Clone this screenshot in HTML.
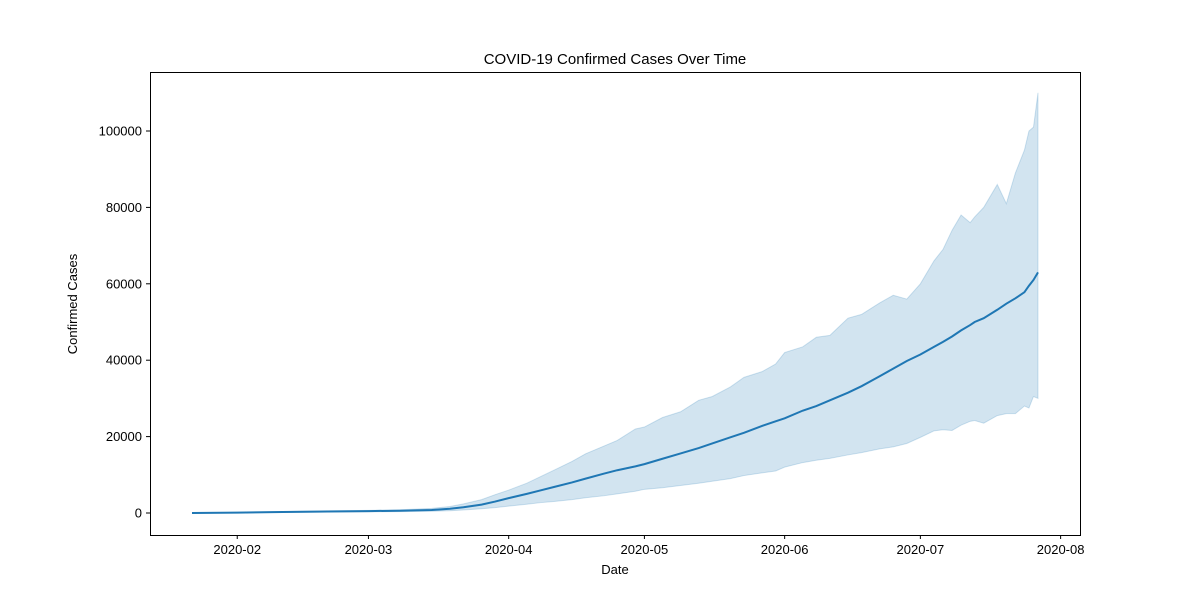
<!DOCTYPE html>
<html><head><meta charset="utf-8"><style>
html,body{margin:0;padding:0;background:#fff;}
svg{display:block;font-family:"Liberation Sans","DejaVu Sans",sans-serif;}
</style></head><body>
<svg id="chart" width="1200" height="600" viewBox="0 0 1200 600">
<text x="615" y="64" text-anchor="middle" font-size="15">COVID-19 Confirmed Cases Over Time</text>
<g id="plot"></g>
<rect x="150.5" y="72.5" width="930" height="463" fill="none" stroke="#000" stroke-width="1"/>
<text x="615" y="574" text-anchor="middle" font-size="13">Date</text>
<text transform="translate(77,304) rotate(-90)" text-anchor="middle" font-size="13">Confirmed Cases</text>
</svg>
<script>
// days since 2020-01-22
const days  = [0,10,20,30,39,46,53,57,60,64,67,70,74,77,80,84,87,91,94,98,100,104,108,112,115,119,122,126,129,131,135,138,141,145,148,152,155,158,161,164,166,168,170,172,173,175,178,180,182,184,185,186,187];
const meanV = [0,100,250,400,500,600,800,1100,1500,2200,3000,3900,5000,5900,6800,8000,9000,10300,11200,12200,12800,14200,15600,17000,18200,19800,21000,22800,24000,24800,26800,28000,29500,31500,33200,35800,37800,39800,41500,43500,44800,46200,47800,49200,50000,51000,53200,54800,56200,57800,59500,61000,63000];
const lowerV= [0,50,150,250,300,350,450,600,800,1100,1400,1800,2300,2700,3000,3500,4000,4500,5000,5700,6200,6600,7200,7800,8300,9000,9800,10500,11000,12000,13200,13800,14300,15200,15800,16800,17300,18200,19800,21500,21800,21600,23000,24000,24200,23500,25500,26000,26000,28000,27500,30500,30000];
const upperV= [0,150,350,550,700,850,1200,1700,2400,3500,4800,6000,7800,9500,11200,13500,15500,17500,19000,22000,22500,25000,26500,29500,30500,33000,35500,37000,39000,42000,43500,46000,46500,51000,52000,55000,57000,56000,60000,66000,69000,74000,78000,76000,77500,80000,86000,81000,89000,95000,100000,101000,110000];
const yTicks=[0,20000,40000,60000,80000,100000];
const xTickLabels=["2020-02","2020-03","2020-04","2020-05","2020-06","2020-07","2020-08"];
const xTickDays=[10,39,70,100,131,161,192];

const X=d=>192+d*(1038-192)/187;
const Y=v=>513-v*(513-131)/100000;
const ns="http://www.w3.org/2000/svg";
const g=document.getElementById('plot');
function el(t,a){const e=document.createElementNS(ns,t);for(const k in a)e.setAttribute(k,a[k]);g.appendChild(e);return e;}

let pts=days.map((d,i)=>X(d)+','+Y(upperV[i]));
for(let i=days.length-1;i>=0;i--)pts.push(X(days[i])+','+Y(lowerV[i]));
const band=el('polygon',{points:pts.join(' '),fill:'#1f77b4','fill-opacity':0.2,stroke:'#1f77b4','stroke-opacity':0.2});


const line=el('polyline',{points:days.map((d,i)=>X(d)+','+Y(meanV[i])).join(' '),fill:'none',stroke:'#1f77b4','stroke-width':2});



yTicks.forEach(v=>{
  const y=Y(v);
  const t=el('line',{x1:146,x2:150,y1:y,y2:y,stroke:'#000'});
  
  
  const l=el('text',{x:142,y:y+4.5,'text-anchor':'end','font-size':13});
  l.textContent=v;
  
  
});
xTickDays.forEach((d,i)=>{
  const x=X(d);
  const t=el('line',{x1:x,x2:x,y1:535,y2:539,stroke:'#000'});
  
  
  const l=el('text',{x:x,y:554,'text-anchor':'middle','font-size':13});
  l.textContent=xTickLabels[i];
  
  
});
</script>
</body></html>
